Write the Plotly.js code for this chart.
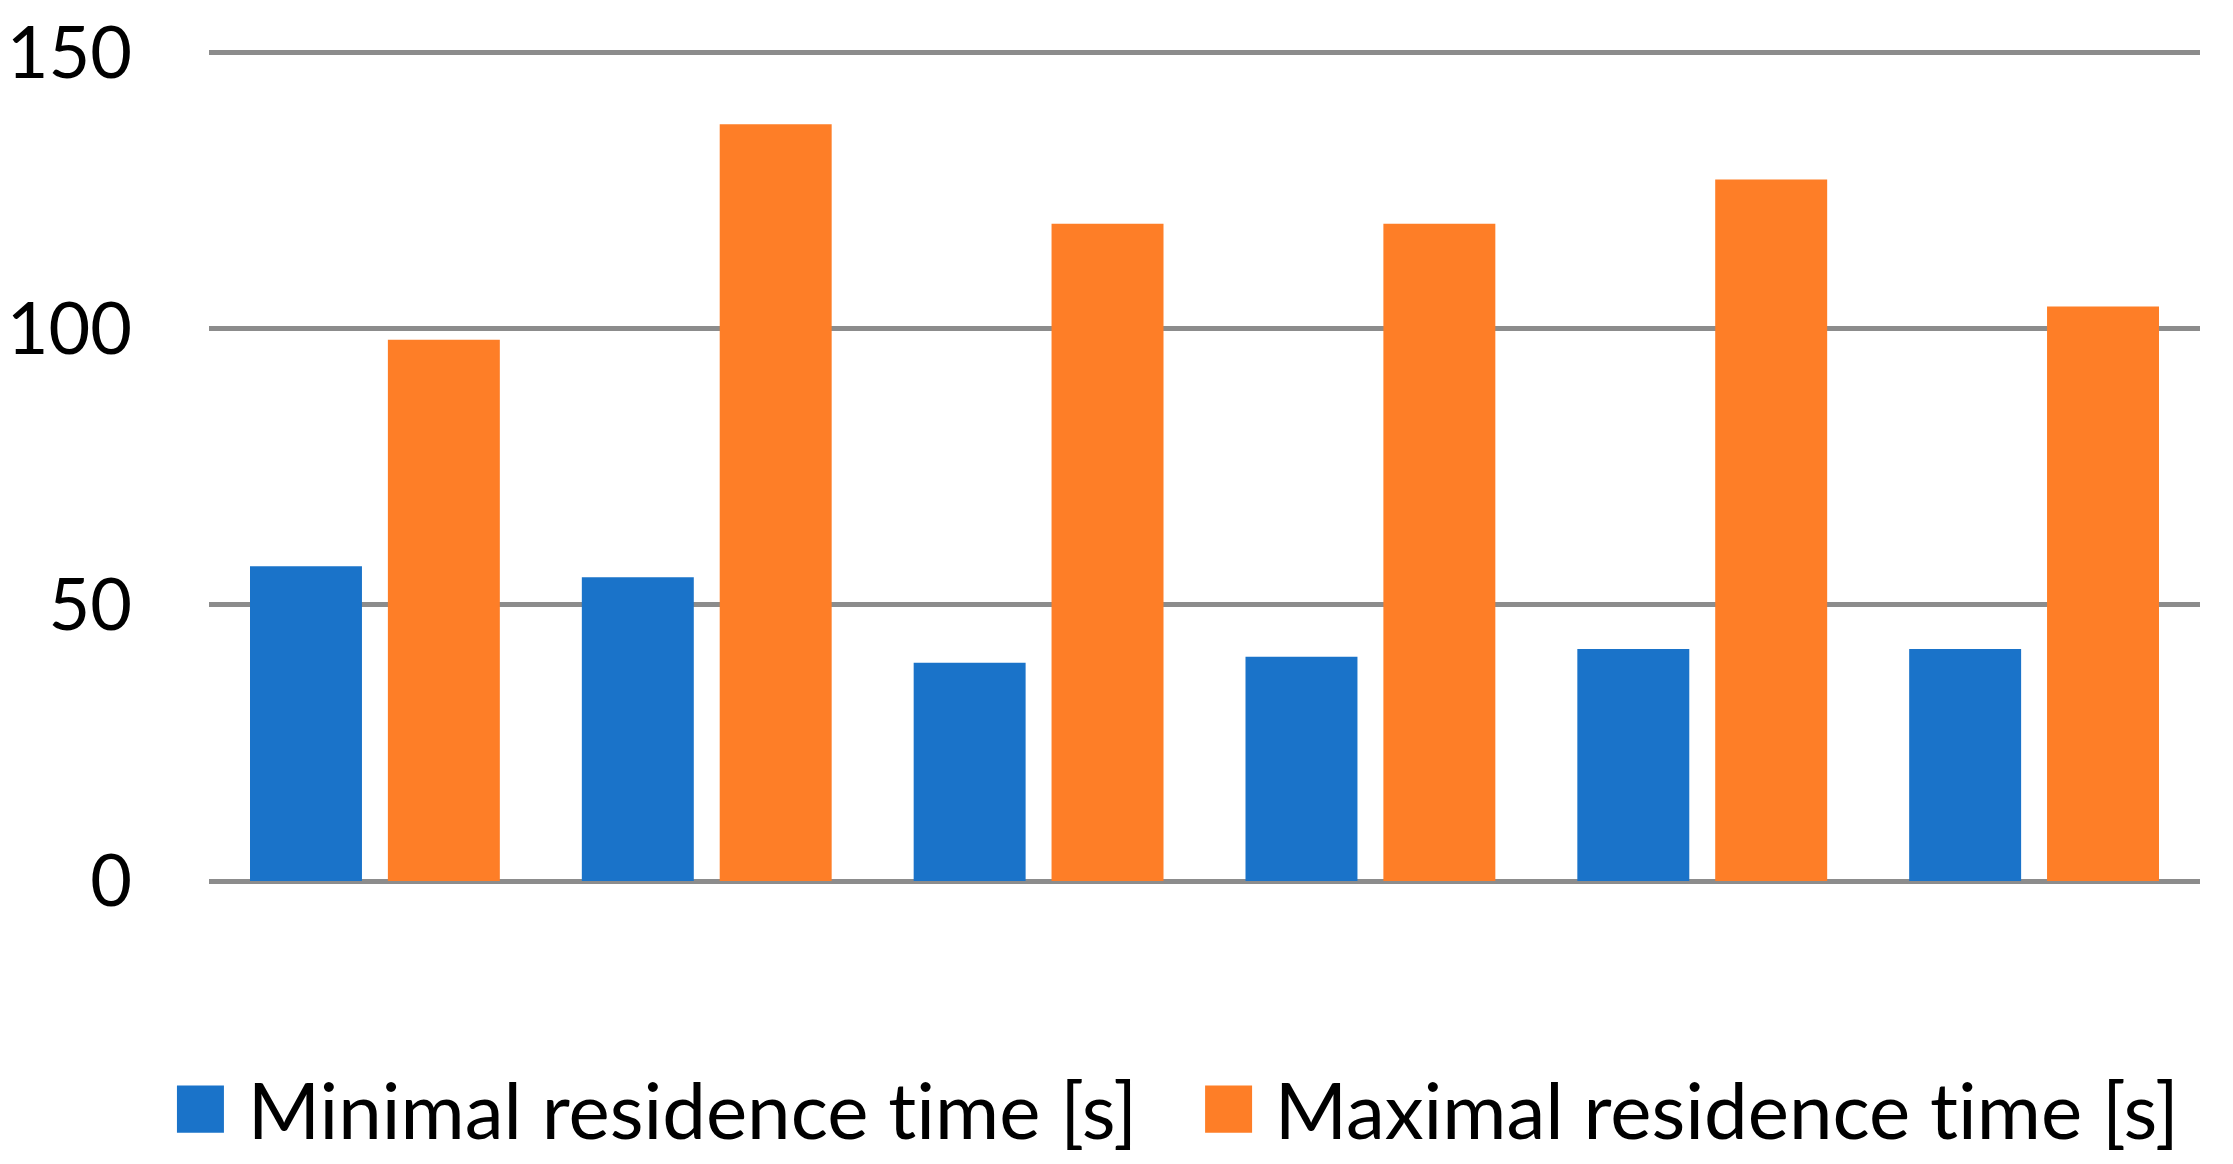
<!DOCTYPE html>
<html>
<head>
<meta charset="utf-8">
<script src="https://cdn.plot.ly/plotly-3.0.1.min.js"></script>
<style>
html,body{margin:0;padding:0;background:#fff;}
#chart{width:2233px;height:1164px;}
#chart text{font-variant-ligatures:none;font-feature-settings:"liga" 0;}
</style>
</head>
<body>
<div id="chart"></div>
<script>
// Data
const categories = ['1', '2', '3', '4', '5', '6'];
const minimalResidence = [57, 55, 39.5, 40.6, 42, 42];
const maximalResidence = [98, 137, 119, 119, 127, 104];
const seriesNames = ['Minimal residence time [s]', 'Maximal residence time [s]'];
const yTicks = [0, 50, 100, 150];

const blue = '#1a73c9';
const orange = '#fe7e27';
const fontFam = 'Lato, "Open Sans", sans-serif';
const tickSize = 72;
const legendSize = 78;

const traces = [
  {type: 'bar', name: seriesNames[0], x: categories, y: minimalResidence, marker: {color: blue}, showlegend: false, hoverinfo: 'y'},
  {type: 'bar', name: seriesNames[1], x: categories, y: maximalResidence, marker: {color: orange}, showlegend: false, hoverinfo: 'y'}
];

// custom legend (large square swatches as in the reference)
const legendY0 = -0.2453, legendY1 = -0.302, legendYm = (legendY0 + legendY1) / 2;
const legendItems = [
  {x0: -0.0161, x1: 0.0075, tx: 0.0181, color: blue, text: seriesNames[0]},
  {x0: 0.5003, x1: 0.5239, tx: 0.5339, color: orange, text: seriesNames[1]}
];

const layout = {
  width: 2233,
  height: 1164,
  margin: {l: 209, r: 33, t: 46.5, b: 282.5},
  paper_bgcolor: '#ffffff',
  plot_bgcolor: '#ffffff',
  barmode: 'group',
  bargap: 0.169,
  bargroupgap: 0.188,
  showlegend: false,
  font: {family: fontFam, size: tickSize, color: '#000000'},
  xaxis: {
    type: 'category',
    showticklabels: false,
    showgrid: false,
    zeroline: false,
    showline: false,
    ticks: ''
  },
  yaxis: {
    range: [0, 151],
    tickvals: yTicks,
    ticktext: yTicks.map(String),
    showgrid: true,
    gridcolor: '#8c8c8c',
    gridwidth: 5,
    zeroline: true,
    zerolinecolor: '#8c8c8c',
    zerolinewidth: 5,
    showline: false,
    ticks: '',
    ticklabelstandoff: 76,
    tickfont: {family: fontFam, size: tickSize, color: '#000000'}
  },
  shapes: legendItems.map(it => ({
    type: 'rect', xref: 'paper', yref: 'paper',
    x0: it.x0, x1: it.x1, y0: legendY1, y1: legendY0,
    fillcolor: it.color, line: {width: 0}
  })),
  annotations: legendItems.map(it => ({
    xref: 'paper', yref: 'paper', x: it.tx, y: legendYm,
    xanchor: 'left', yanchor: 'middle', showarrow: false,
    text: it.text,
    font: {family: fontFam, size: legendSize, color: '#000000'}
  }))
};

Plotly.newPlot('chart', traces, layout, {displayModeBar: false, staticPlot: true});
</script>
</body>
</html>
